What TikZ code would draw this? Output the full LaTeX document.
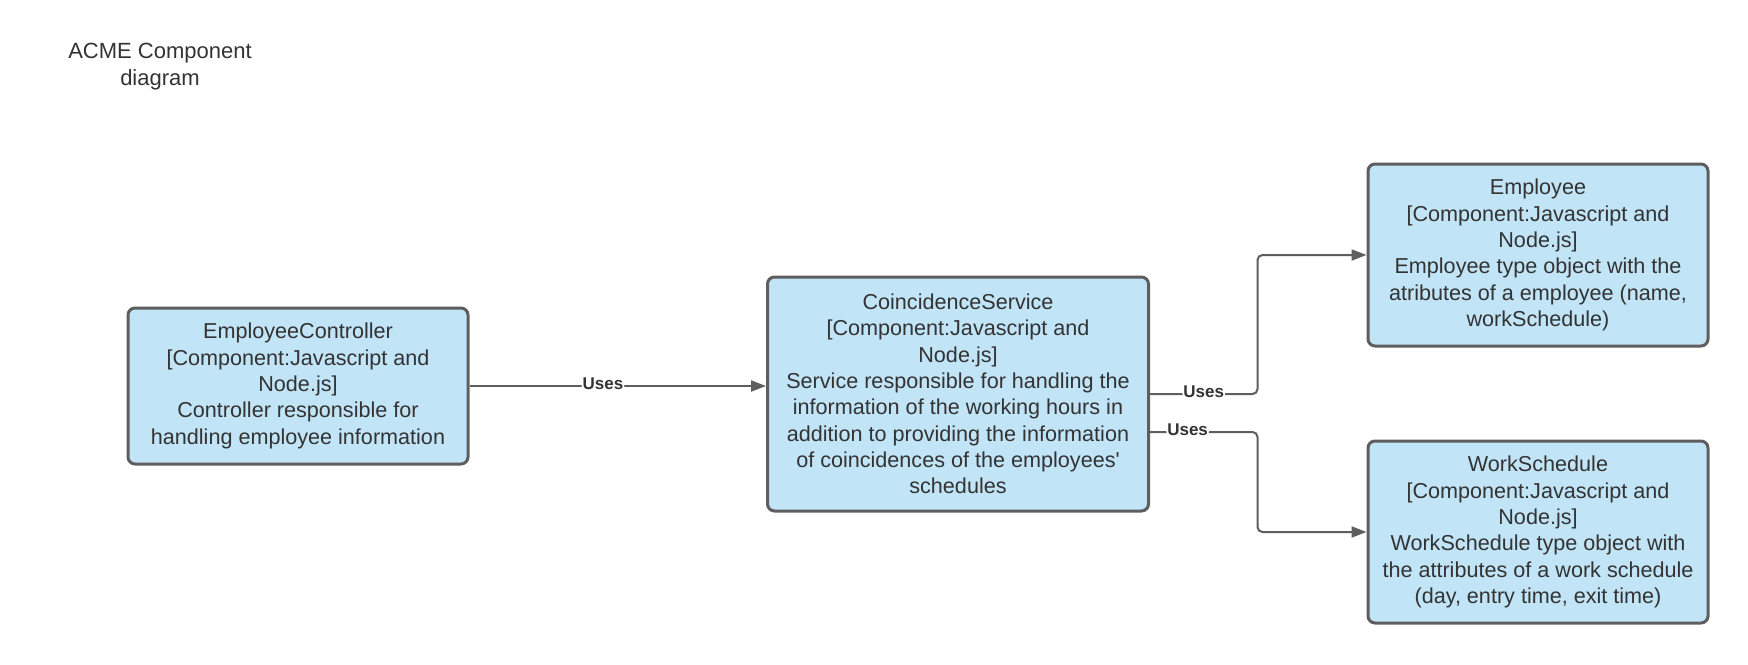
\documentclass[tikz,border=0pt]{standalone}
\usepackage{fontspec}
\setmainfont{Liberation Sans}
\newfontfamily\nomapfont{Liberation Sans}
\usetikzlibrary{arrows.meta}
\definecolor{boxfill}{HTML}{C1E4F7}
\definecolor{boxline}{HTML}{5E5E5E}
\definecolor{txt}{HTML}{333333}
\begin{document}
\begin{tikzpicture}[x=1pt,y=-1pt,
  comp/.style={draw=boxline, fill=boxfill, line width=3pt, rounded corners=7pt,
    align=center, text=txt, font=\fontsize{21.6}{26.3}\selectfont, inner sep=0pt},
  conn/.style={draw=boxline, line width=2pt, -{Triangle[length=15pt,width=11pt]}, rounded corners=5pt},
  lbl/.style={font=\bfseries\fontsize{17}{20}\selectfont, text=txt, fill=white, inner sep=1pt, yshift=2pt}]
\useasboundingbox (0,0) rectangle (1748,664);
\node[text=txt, align=center, font=\fontsize{22}{26.7}\selectfont] (title) at (160,66.7) {ACME Component\\diagram};
\node[comp, minimum width=340pt, minimum height=156pt] (ec) at (298,386)
  {EmployeeController\\{[}Component:Javascript and\\Node.js{]}\\Controller responsible for\\handling employee information};
\node[comp, minimum width=381pt, minimum height=234pt] (cs) at (958,394)
  {CoincidenceService\\{[}Component:Javascript and\\Node.js{]}\\Service responsible for handling the\\information of the working hours in\\addition to providing the information\\of coincidences of the employees{\nomapfont '}\\schedules};
\node[comp, minimum width=340pt, minimum height=182pt] (emp) at (1538,255)
  {Employee\\{[}Component:Javascript and\\Node.js{]}\\Employee type object with the\\atributes of a employee (name,\\workSchedule)};
\node[comp, minimum width=340pt, minimum height=182pt] (ws) at (1538,532)
  {WorkSchedule\\{[}Component:Javascript and\\Node.js{]}\\WorkSchedule type object with\\the attributes of a work schedule\\(day, entry time, exit time)};
\coordinate (bx) at (1257.5,0);
\coordinate (s3) at ([yshift=-38pt]cs.east);
\draw[conn] (ec.east) -- node[lbl, pos=0.45] {Uses} (ec.east -| cs.west);
\draw[conn] (cs.east) -- node[lbl, pos=0.5] {Uses} (cs.east -| bx) |- (emp.west);
\draw[conn] (s3) -- node[lbl, pos=0.35] {Uses} (s3 -| bx) |- (ws.west);
\end{tikzpicture}
\end{document}
